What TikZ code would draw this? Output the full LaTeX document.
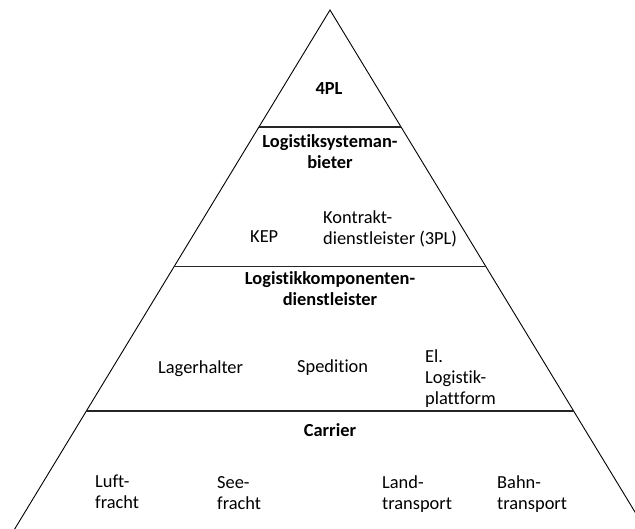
\documentclass[tikz,border=0pt]{standalone}
\usepackage{fontspec}
\setmainfont{Carlito}[Ligatures=NoCommon]
\usetikzlibrary{calc}
\begin{document}
\begin{tikzpicture}[x=1pt,y=-1pt,
  side/.style={line width=0.9pt,black},
  level/.style={line width=1.3pt,black!85},
  txt/.style={inner sep=0pt,font=\fontsize{18.4}{21}\selectfont,align=left,anchor=base west},
  head/.style={inner sep=0pt,font=\fontsize{18.4}{21}\selectfont\bfseries,align=center,anchor=base}]
\useasboundingbox (0,0) rectangle (635,528);
\begin{scope}
\clip (0,0) rectangle (635,528);
% pyramid outline
\coordinate (A) at (330,10);
\coordinate (BL) at (8,540);
\coordinate (BR) at (652,540);
\draw[side] (BL) -- (A) -- (BR);
% level separators
\coordinate (l1a) at ($(A)!0.2208!(BL)$);
\coordinate (l1b) at ($(A)!0.2208!(BR)$);
\coordinate (l2a) at ($(A)!0.4840!(BL)$);
\coordinate (l2b) at ($(A)!0.4840!(BR)$);
\coordinate (l3a) at ($(A)!0.7566!(BL)$);
\coordinate (l3b) at ($(A)!0.7566!(BR)$);
\draw[level] (l1a) -- (l1b);
\draw[level] (l2a) -- (l2b);
\draw[level] (l3a) -- (l3b);
\end{scope}
% level titles (anchored at the baseline of their last line)
\node[head] (t4pl) at (329,94) {4PL};
\node[head] (tsys) at (330,168) {Logistiksysteman-\\bieter};
\node[head] (tkomp) at (330,305) {Logistikkomponenten-\\dienstleister};
\node[head] (tcar) at (330,436) {Carrier};
% members
\node[txt] (kep) at (250,242) {KEP};
\node[txt] (kontr) at (323,244) {Kontrakt-\\dienstleister (3PL)};
\node[txt] (lager) at (158,373) {Lagerhalter};
\node[txt] (sped) at (297,372) {Spedition};
\node[txt] (elp) at (425,404) {El.\\Logistik-\\plattform};
\node[txt] (luft) at (95,508) {Luft-\\fracht};
\node[txt] (see) at (217,509) {See-\\fracht};
\node[txt] (land) at (382,509) {Land-\\transport};
\node[txt] (bahn) at (497,509) {Bahn-\\transport};
\end{tikzpicture}
\end{document}
